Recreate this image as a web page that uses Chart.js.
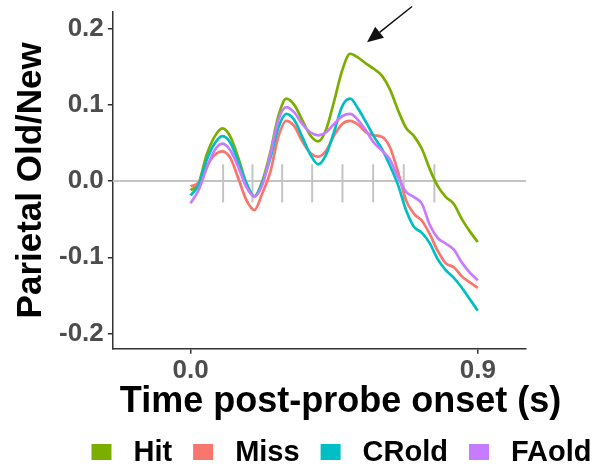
<!DOCTYPE html>
<html>
<head>
<meta charset="utf-8">
<script src="https://cdn.jsdelivr.net/npm/chart.js@4.4.1/dist/chart.umd.min.js"></script>
<style>
  html, body { margin: 0; padding: 0; background: #fff; }
  canvas { display: block; }
</style>
</head>
<body>
<canvas id="erp" width="609" height="473"></canvas>
<script>
// time points (s) and condition means
const times = [0, 0.025, 0.05, 0.075, 0.1, 0.125, 0.15, 0.175, 0.2, 0.225, 0.25, 0.275,
  0.3, 0.325, 0.35, 0.375, 0.4, 0.425, 0.45, 0.475, 0.5, 0.525, 0.55, 0.575,
  0.6, 0.625, 0.65, 0.675, 0.7, 0.725, 0.75, 0.775, 0.8, 0.825, 0.85, 0.875, 0.9];

const hit = [-0.012, -0.003, 0.034, 0.058, 0.069, 0.058, 0.030, -0.003, -0.020, 0.000, 0.038, 0.085,
  0.108, 0.100, 0.080, 0.060, 0.052, 0.068, 0.105, 0.145, 0.167, 0.162, 0.154, 0.147,
  0.138, 0.120, 0.093, 0.070, 0.059, 0.042, 0.015, -0.007, -0.021, -0.030, -0.050, -0.066, -0.080];

const miss = [-0.007, -0.002, 0.019, 0.034, 0.039, 0.030, 0.003, -0.025, -0.038, -0.016, 0.012, 0.058,
  0.079, 0.072, 0.052, 0.037, 0.032, 0.040, 0.060, 0.075, 0.079, 0.074, 0.064, 0.060,
  0.058, 0.044, 0.012, -0.025, -0.043, -0.052, -0.070, -0.092, -0.108, -0.113, -0.125, -0.133, -0.140];

const crOld = [-0.019, -0.005, 0.027, 0.049, 0.059, 0.050, 0.025, -0.003, -0.020, -0.002, 0.030, 0.070,
  0.088, 0.080, 0.058, 0.035, 0.022, 0.035, 0.065, 0.098, 0.108, 0.095, 0.077, 0.058,
  0.042, 0.020, -0.005, -0.038, -0.060, -0.068, -0.082, -0.103, -0.117, -0.127, -0.140, -0.155, -0.170];

const faOld = [-0.029, -0.012, 0.016, 0.040, 0.049, 0.040, 0.018, -0.008, -0.020, -0.005, 0.035, 0.080,
  0.097, 0.090, 0.075, 0.064, 0.060, 0.064, 0.075, 0.085, 0.088, 0.080, 0.066, 0.050,
  0.040, 0.028, 0.005, -0.014, -0.021, -0.030, -0.058, -0.075, -0.082, -0.090, -0.107, -0.120, -0.130];

const seriesNames = ['Hit', 'Miss', 'CRold', 'FAold'];
const seriesColors = ['#7CAE00', '#F8766D', '#00BFC4', '#C77CFF'];
const seriesValues = [hit, miss, crOld, faOld];

// probe-related markers along the zero line
const stimTimes = [0.102, 0.194, 0.287, 0.381, 0.476, 0.572, 0.668, 0.764];
const stimSpan = [-0.028, 0.022];

const xTicks = [0, 0.9];
const yTicks = [-0.2, -0.1, 0, 0.1, 0.2];
const xTitle = 'Time post-probe onset (s)';

// arrow pointing at the Hit peak (data units)
const arrowFrom = { x: 0.694, y: 0.229 };
const arrowTo = { x: 0.553, y: 0.182 };

const FONT = "'Liberation Sans', Arial, sans-serif";
const AXIS_GREY = '#4d4d4d';

const refLines = {
    id: 'refLines',
    beforeDatasetsDraw(chart) {
        const { ctx, chartArea, scales: { x, y } } = chart;
        ctx.save();
        ctx.strokeStyle = '#c4c4c4';
        ctx.lineWidth = 2;
        const y0 = y.getPixelForValue(0);
        ctx.beginPath();
        ctx.moveTo(chartArea.left, y0);
        ctx.lineTo(chartArea.right, y0);
        ctx.stroke();
        stimTimes.forEach(t => {
            const px = x.getPixelForValue(t);
            ctx.beginPath();
            ctx.moveTo(px, y.getPixelForValue(stimSpan[0]));
            ctx.lineTo(px, y.getPixelForValue(stimSpan[1]));
            ctx.stroke();
        });
        ctx.restore();
    }
};

const arrow = {
    id: 'arrow',
    afterDraw(chart) {
        const { ctx, scales: { x, y } } = chart;
        const x1 = x.getPixelForValue(arrowFrom.x), y1 = y.getPixelForValue(arrowFrom.y);
        const x2 = x.getPixelForValue(arrowTo.x), y2 = y.getPixelForValue(arrowTo.y);
        const ang = Math.atan2(y2 - y1, x2 - x1);
        const len = 16, half = 7;
        const bx = x2 - len * Math.cos(ang), by = y2 - len * Math.sin(ang);
        ctx.save();
        ctx.strokeStyle = '#111';
        ctx.fillStyle = '#111';
        ctx.lineWidth = 1.5;
        ctx.beginPath();
        ctx.moveTo(x1, y1);
        ctx.lineTo(bx, by);
        ctx.stroke();
        ctx.beginPath();
        ctx.moveTo(x2, y2);
        ctx.lineTo(bx + half * Math.sin(ang), by - half * Math.cos(ang));
        ctx.lineTo(bx - half * Math.sin(ang), by + half * Math.cos(ang));
        ctx.closePath();
        ctx.fill();
        ctx.restore();
    }
};

// x title and legend sit a little right of the panel centre in the source, so draw them here
const bottomText = {
    id: 'bottomText',
    afterDraw(chart) {
        const { ctx } = chart;
        const mid = chart.width / 2 + 36;
        ctx.save();
        ctx.fillStyle = '#000';
        ctx.font = 'bold 36px ' + FONT;
        ctx.textAlign = 'center';
        ctx.textBaseline = 'alphabetic';
        ctx.fillText(xTitle, mid, 412);

        const boxW = 20, boxH = 16, textGap = 22, itemGap = 21;
        const yc = 452;
        ctx.font = 'bold 29px ' + FONT;
        ctx.textAlign = 'left';
        ctx.textBaseline = 'middle';
        const widths = seriesNames.map(n => ctx.measureText(n).width);
        const total = widths.reduce((a, w) => a + boxW + textGap + w, 0) + itemGap * (seriesNames.length - 1);
        let cx = mid + 1 - total / 2;
        seriesNames.forEach((name, i) => {
            ctx.fillStyle = seriesColors[i];
            ctx.fillRect(cx, yc - boxH / 2, boxW, boxH);
            ctx.fillStyle = '#000';
            ctx.fillText(name, cx + boxW + textGap, yc + 1);
            cx += boxW + textGap + widths[i] + itemGap;
        });
        ctx.restore();
    }
};

// FAold drawn on top, Hit underneath (same stacking as the source figure)
const datasets = seriesNames.map((name, i) => ({
    label: name,
    data: times.map((t, j) => ({ x: t, y: seriesValues[i][j] })),
    borderColor: seriesColors[i],
    backgroundColor: seriesColors[i],
    order: seriesNames.length - i
}));

new Chart(document.getElementById('erp').getContext('2d'), {
    type: 'line',
    data: { datasets: datasets },
    options: {
        responsive: false,
        animation: false,
        layout: { padding: { top: 9, right: 83, bottom: 86, left: 0 } },
        elements: {
            point: { radius: 0 },
            line: { borderWidth: 2.7, cubicInterpolationMode: 'monotone' }
        },
        plugins: {
            legend: { display: false },
            tooltip: { enabled: false }
        },
        scales: {
            x: {
                type: 'linear',
                min: -0.2436,
                max: 1.051,
                afterBuildTicks: scale => { scale.ticks = xTicks.map(v => ({ value: v })); },
                ticks: {
                    callback: v => v.toFixed(1),
                    font: { family: FONT, size: 26, weight: 'bold' },
                    color: AXIS_GREY,
                    padding: 1,
                    maxRotation: 0
                },
                grid: { drawOnChartArea: false, tickLength: 5, color: '#333', lineWidth: 1.5 },
                border: { color: '#333', width: 1.5 }
            },
            y: {
                type: 'linear',
                min: -0.22,
                max: 0.222,
                afterBuildTicks: scale => { scale.ticks = yTicks.map(v => ({ value: v })); },
                ticks: {
                    callback: v => v.toFixed(1),
                    font: { family: FONT, size: 26, weight: 'bold', lineHeight: 0.6 },
                    color: AXIS_GREY,
                    padding: 4
                },
                grid: { drawOnChartArea: false, tickLength: 5, color: '#333', lineWidth: 1.5 },
                border: { color: '#333', width: 1.5 },
                title: {
                    display: true,
                    text: 'Parietal Old/New',
                    color: '#000',
                    font: { family: FONT, size: 35, weight: 'bold', lineHeight: 1.2 },
                    padding: { top: 10, bottom: 3 }
                }
            }
        }
    },
    plugins: [refLines, arrow, bottomText]
});
</script>
</body>
</html>
